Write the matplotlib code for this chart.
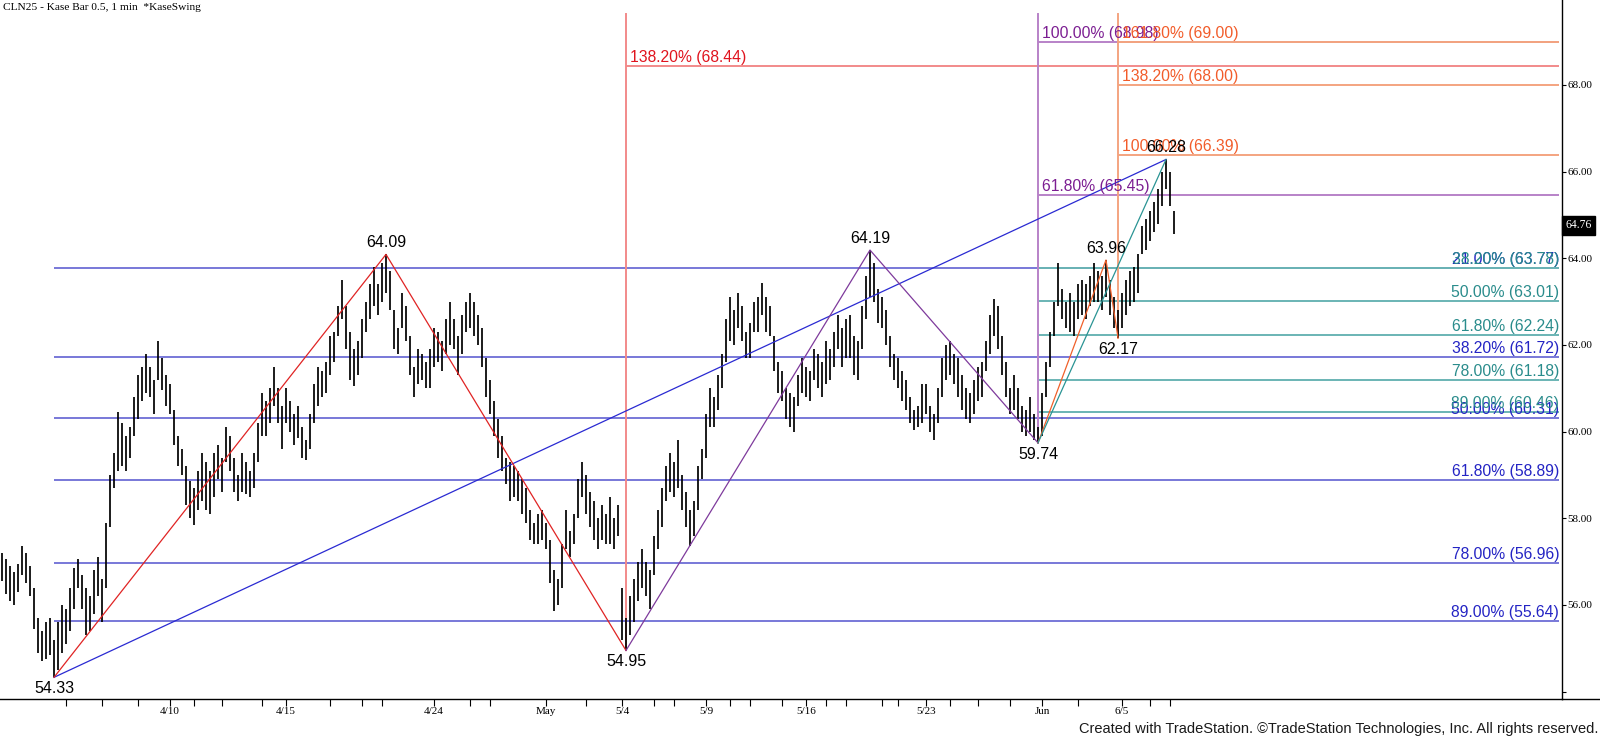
import matplotlib
matplotlib.use('Agg')
import matplotlib.pyplot as plt
import matplotlib.transforms as mtransforms
from matplotlib.lines import Line2D

# ---------------- data ----------------
highs = [
    57.20, 57.05, 56.90, 56.75, 56.95, 57.35, 57.20, 56.90, 56.40, 55.70,
    55.40, 55.60, 55.70, 55.20, 55.60, 56.00, 55.90, 56.40, 56.85, 57.05,
    56.70, 56.40, 56.20, 56.80, 57.10, 56.60, 57.90, 59.00, 59.50, 60.45,
    60.20, 59.90, 60.10, 60.80, 61.30, 61.50, 61.80, 61.50, 61.20, 62.10,
    61.70, 61.30, 61.10, 60.50, 59.90, 59.60, 59.20, 58.85, 58.70, 59.10,
    59.50, 59.30, 59.10, 59.50, 59.70, 59.40, 60.10, 59.90, 59.40, 59.00,
    59.50, 59.30, 59.10, 59.50, 60.20, 60.90, 60.70, 61.00, 61.50, 61.00,
    60.60, 61.00, 60.70, 60.40, 60.60, 60.10, 59.80, 60.40, 61.10, 61.50,
    61.40, 61.60, 62.20, 62.30, 62.90, 63.50, 62.90, 62.30, 61.90, 62.10,
    62.60, 63.00, 63.40, 63.80, 63.40, 63.90, 64.09, 63.70, 62.80, 62.40,
    63.20, 62.90, 62.20, 61.50, 61.90, 61.80, 61.60, 61.90, 62.40, 62.30,
    62.10, 62.60, 63.00, 62.60, 62.20, 62.70, 63.00, 63.20, 63.00, 62.70,
    62.40, 61.70, 61.20, 60.70, 60.30, 59.90, 59.40, 59.30, 59.20, 59.10,
    58.90, 58.70, 58.20, 57.90, 58.10, 58.20, 57.90, 57.50, 56.80, 56.60,
    57.40, 58.20, 57.70, 58.10, 58.90, 59.30, 59.00, 58.60, 58.40, 58.00,
    58.30, 58.10, 58.50, 58.00, 58.30, 56.40, 55.70, 56.20, 56.60, 57.00,
    57.30, 57.00, 56.80, 57.60, 58.20, 58.70, 59.20, 59.50, 59.30, 59.80,
    59.00, 58.60, 58.20, 58.40, 59.20, 59.60, 60.40, 61.00, 60.80, 61.30,
    61.80, 62.60, 63.10, 62.80, 63.20, 62.90, 62.30, 62.50, 63.00, 63.10,
    63.43, 63.10, 62.90, 62.20, 61.60, 61.40, 61.00, 60.90, 60.80, 61.30,
    61.70, 61.50, 61.40, 61.90, 61.80, 61.60, 62.10, 61.90, 62.30, 62.70,
    62.40, 62.60, 62.70, 62.20, 62.10, 62.90, 63.60, 64.19, 63.90, 63.30,
    63.10, 62.80, 62.20, 61.80, 61.70, 61.40, 61.20, 60.80, 60.50, 60.60,
    61.10, 61.10, 60.60, 60.40, 61.00, 61.70, 62.00, 62.10, 61.80, 61.70,
    61.30, 61.00, 60.90, 61.20, 61.50, 61.60, 62.10, 62.70, 63.05, 62.90,
    62.20, 61.60, 61.00, 61.30, 61.00, 60.60, 60.50, 60.80, 60.40, 60.10,
    60.90, 61.60, 62.30, 63.00, 63.88, 63.30, 63.00, 63.20, 63.00, 63.40,
    63.50, 63.40, 63.60, 63.88, 63.70, 63.60, 63.96, 63.50, 63.10, 62.80,
    63.20, 63.50, 63.70, 63.80, 64.10, 64.75, 64.90, 65.10, 65.30, 65.60,
    66.00, 66.28, 66.00, 65.10,
]
lows = [
    56.55, 56.25, 56.10, 56.00, 56.30, 56.70, 56.50, 56.20, 55.45, 54.90,
    54.70, 54.75, 54.85, 54.33, 54.50, 54.90, 55.10, 55.40, 55.90, 56.40,
    55.90, 55.30, 55.40, 55.80, 56.20, 55.60, 56.40, 57.80, 58.70, 59.10,
    59.20, 59.10, 59.40, 59.90, 60.30, 60.70, 60.90, 60.80, 60.40, 61.20,
    60.95, 60.60, 60.40, 59.70, 59.20, 59.00, 58.30, 58.00, 57.85, 58.20,
    58.40, 58.20, 58.10, 58.50, 58.90, 58.60, 59.30, 59.10, 58.60, 58.40,
    58.60, 58.55, 58.50, 58.70, 59.30, 59.90, 59.90, 60.20, 60.60, 60.20,
    59.60, 60.20, 60.00, 59.70, 59.85, 59.40, 59.35, 59.60, 60.20, 60.60,
    60.80, 60.90, 61.30, 61.60, 62.20, 62.60, 61.90, 61.20, 61.05, 61.30,
    61.70, 62.30, 62.60, 62.90, 62.70, 63.00, 63.20, 62.80, 61.90, 61.80,
    62.40, 62.10, 61.30, 60.80, 61.10, 61.20, 61.00, 61.00, 61.50, 61.60,
    61.40, 61.80, 62.00, 61.90, 61.30, 61.80, 62.30, 62.40, 62.20, 62.00,
    61.50, 60.80, 60.40, 59.90, 59.40, 59.10, 58.80, 58.40, 58.50, 58.40,
    58.10, 57.90, 57.50, 57.40, 57.40, 57.50, 57.30, 56.50, 55.85, 56.00,
    56.40, 57.30, 57.10, 57.40, 58.00, 58.50, 58.10, 57.80, 57.50, 57.30,
    57.50, 57.40, 57.40, 57.30, 57.60, 55.20, 54.95, 55.30, 55.60, 56.10,
    56.40, 56.20, 55.90, 56.70, 57.30, 57.80, 58.40, 58.60, 58.50, 58.70,
    58.20, 57.80, 57.35, 57.60, 58.20, 58.90, 59.40, 60.10, 60.10, 60.50,
    61.00, 61.60, 62.10, 62.00, 62.40, 62.10, 61.70, 61.70, 62.30, 62.30,
    62.70, 62.30, 62.20, 61.40, 60.90, 60.70, 60.30, 60.10, 60.00, 60.60,
    60.90, 60.80, 60.70, 61.20, 61.00, 60.80, 61.10, 61.20, 61.50, 61.90,
    61.50, 61.70, 61.70, 61.30, 61.20, 61.90, 62.60, 63.10, 63.00, 62.50,
    62.40, 62.00, 61.50, 61.20, 61.00, 60.70, 60.50, 60.20, 60.04, 60.10,
    60.20, 60.40, 60.00, 59.80, 60.20, 60.80, 61.20, 61.30, 61.10, 60.80,
    60.50, 60.30, 60.20, 60.40, 60.70, 60.80, 61.40, 61.80, 62.20, 61.90,
    61.30, 60.80, 60.40, 60.50, 60.30, 60.00, 59.90, 60.00, 59.80, 59.74,
    59.90, 60.80, 61.50, 62.20, 62.90, 62.60, 62.40, 62.30, 62.20, 62.60,
    62.70, 62.60, 62.90, 63.00, 63.00, 62.80, 63.10, 62.70, 62.40, 62.17,
    62.40, 62.70, 62.90, 63.00, 63.20, 64.10, 64.20, 64.40, 64.60, 64.80,
    65.20, 65.60, 65.20, 64.56,
]
last_close = 64.76

# swing points (bar index, price, label side)
swing_bars = [13, 96, 156, 217, 259, 276, 279, 291]
swing_prices = [54.33, 64.09, 54.95, 64.19, 59.74, 63.96, 62.17, 66.28]
swing_side = ['below', 'above', 'below', 'above', 'below', 'above', 'below', 'above']

# Fibonacci level sets
blue_pcts = ['21.00%', '38.20%', '50.00%', '61.80%', '78.00%', '89.00%']
blue_levels = [63.77, 61.72, 60.31, 58.89, 56.96, 55.64]
teal_pcts = ['38.20%', '50.00%', '61.80%', '78.00%', '89.00%']
teal_levels = [63.78, 63.01, 62.24, 61.18, 60.46]
red_pcts = ['138.20%']
red_levels = [68.44]
purple_pcts = ['100.00%', '61.80%']
purple_levels = [68.98, 65.45]
orange_pcts = ['161.80%', '138.20%', '100.00%']
orange_levels = [69.00, 68.00, 66.39]

date_ticks = [42, 71, 108, 136, 155, 176, 201, 231, 260, 280]
date_labels = ['4/10', '4/15', '4/24', 'May', '5/4', '5/9', '5/16', '5/23', 'Jun', '6/5']
minor_ticks = [16, 25, 34, 48, 55, 65, 82, 90, 95, 117, 122, 146, 163, 168, 182,
               187, 195, 206, 211, 220, 224, 237, 244, 252, 269, 287, 292]
price_ticks = [54, 56, 58, 60, 62, 64, 66, 68]

title = 'CLN25 - Kase Bar 0.5, 1 min  *KaseSwing'
footer = 'Created with TradeStation. \u00a9TradeStation Technologies, Inc. All rights reserved.'

# ---------------- styling ----------------
SANS = 'Liberation Sans'
SERIF = 'Liberation Serif'
W, H = 1600, 739
C_BLUE_L, C_BLUE_T = '#7878d8', '#2424c4'
C_TEAL_L, C_TEAL_T = '#6ab4b4', '#2a8c8c'
C_RED_L, C_RED_T = '#f28a8a', '#e0141e'
C_PUR_L, C_PUR_T = '#b882c8', '#7c1e92'
C_ORA_L, C_ORA_T = '#f4a480', '#f25c2a'
C_RED_D, C_PUR_D, C_BLUE_D, C_ORA_D, C_TEAL_D = '#e02424', '#7e3a9c', '#2a2ad2', '#f0602a', '#2a9494'

fig = plt.figure(figsize=(W / 100, H / 100), dpi=100)
fig.patch.set_facecolor('white')
ax = fig.add_axes([0, 40 / H, 1562 / W, 699 / H])
ax.set_xlim(-0.5, 390)
ax.set_ylim(53.83, 69.96)
line_end = 389.3
v_top = 69.64

# bars
xs = list(range(len(highs)))
ax.vlines(xs, lows, highs, color='black', lw=1.25, zorder=3)

# horizontal fib lines
def hlevels(start, levels, pcts, lcol, tcol, label_at_start):
    for lv, pc in zip(levels, pcts):
        ax.plot([start, line_end], [lv, lv], color=lcol, lw=1.4, zorder=2, solid_capstyle='butt')
        txt = f'{pc} ({lv:.2f})'
        if label_at_start:
            ax.annotate(txt, (start, lv), xytext=(4, 1), textcoords='offset pixels',
                        ha='left', va='bottom', color=tcol, fontsize=11.3, family=SANS, zorder=5)
        else:
            ax.annotate(txt, (line_end, lv), xytext=(0, 1), textcoords='offset pixels',
                        ha='right', va='bottom', color=tcol, fontsize=11.3, family=SANS, zorder=5)

hlevels(swing_bars[0], blue_levels, blue_pcts, C_BLUE_L, C_BLUE_T, False)
hlevels(swing_bars[4], teal_levels, teal_pcts, C_TEAL_L, C_TEAL_T, False)
hlevels(swing_bars[2], red_levels, red_pcts, C_RED_L, C_RED_T, True)
hlevels(swing_bars[4], purple_levels, purple_pcts, C_PUR_L, C_PUR_T, True)
hlevels(swing_bars[6], orange_levels, orange_pcts, C_ORA_L, C_ORA_T, True)

# vertical projection lines
for idx, col in ((2, C_RED_L), (4, C_PUR_L), (6, C_ORA_L)):
    ax.plot([swing_bars[idx], swing_bars[idx]], [swing_prices[idx], v_top], color=col, lw=1.4, zorder=2)

# swing diagonals
def seg(ids, col):
    ax.plot([swing_bars[i] for i in ids], [swing_prices[i] for i in ids], color=col, lw=0.9, zorder=4)

seg([0, 7], C_BLUE_D)
seg([0, 1, 2], C_RED_D)
seg([2, 3, 4], C_PUR_D)
seg([4, 5, 6], C_ORA_D)
seg([4, 7], C_TEAL_D)

# swing labels
for b, p, s in zip(swing_bars, swing_prices, swing_side):
    if s == 'above':
        ax.annotate(f'{p:.2f}', (b, p), xytext=(0, 4), textcoords='offset pixels',
                    ha='center', va='bottom', fontsize=11.5, family=SANS, color='black', zorder=6)
    else:
        ax.annotate(f'{p:.2f}', (b, p), xytext=(0, -4), textcoords='offset pixels',
                    ha='center', va='top', fontsize=11.5, family=SANS, color='black', zorder=6)

# axes / ticks
for sp in ('left', 'top'):
    ax.spines[sp].set_visible(False)
ax.spines['right'].set_linewidth(1.0)
ax.spines['bottom'].set_linewidth(1.0)
ax.yaxis.tick_right()
ax.set_yticks(price_ticks)
ax.set_yticklabels([''] + [f'{t:.2f}' for t in price_ticks[1:]], family=SERIF, fontsize=8)
ax.tick_params(axis='y', direction='out', length=3, width=0.8, pad=1)
ax.set_xticks(date_ticks)
ax.set_xticklabels(date_labels, family=SERIF, fontsize=8)
ax.set_xticks(minor_ticks, minor=True)
ax.tick_params(axis='x', which='both', direction='out', length=5, width=0.8, pad=0.5)

# last price tag
trans = mtransforms.blended_transform_factory(ax.transAxes, ax.transData)
ax.text(1.002, last_close, f'{last_close:.2f}', transform=trans, ha='left', va='center',
        color='white', fontsize=8.5, family=SERIF,
        bbox=dict(boxstyle='square,pad=0.3', fc='black', ec='black'), clip_on=False, zorder=10)

# extend bottom axis line across the figure
fig.add_artist(Line2D([1562 / W, 1.0], [40 / H, 40 / H], color='black', lw=1.0))

fig.text(3 / W, 1 - 8 / H, title, ha='left', va='center', fontsize=8.2, family=SERIF)
fig.text(1598 / W, 1 - 729 / H, footer, ha='right', va='center', fontsize=10.5, family=SANS, color='#1a1a1a')

fig.savefig('out.png', dpi=100, facecolor='white')
